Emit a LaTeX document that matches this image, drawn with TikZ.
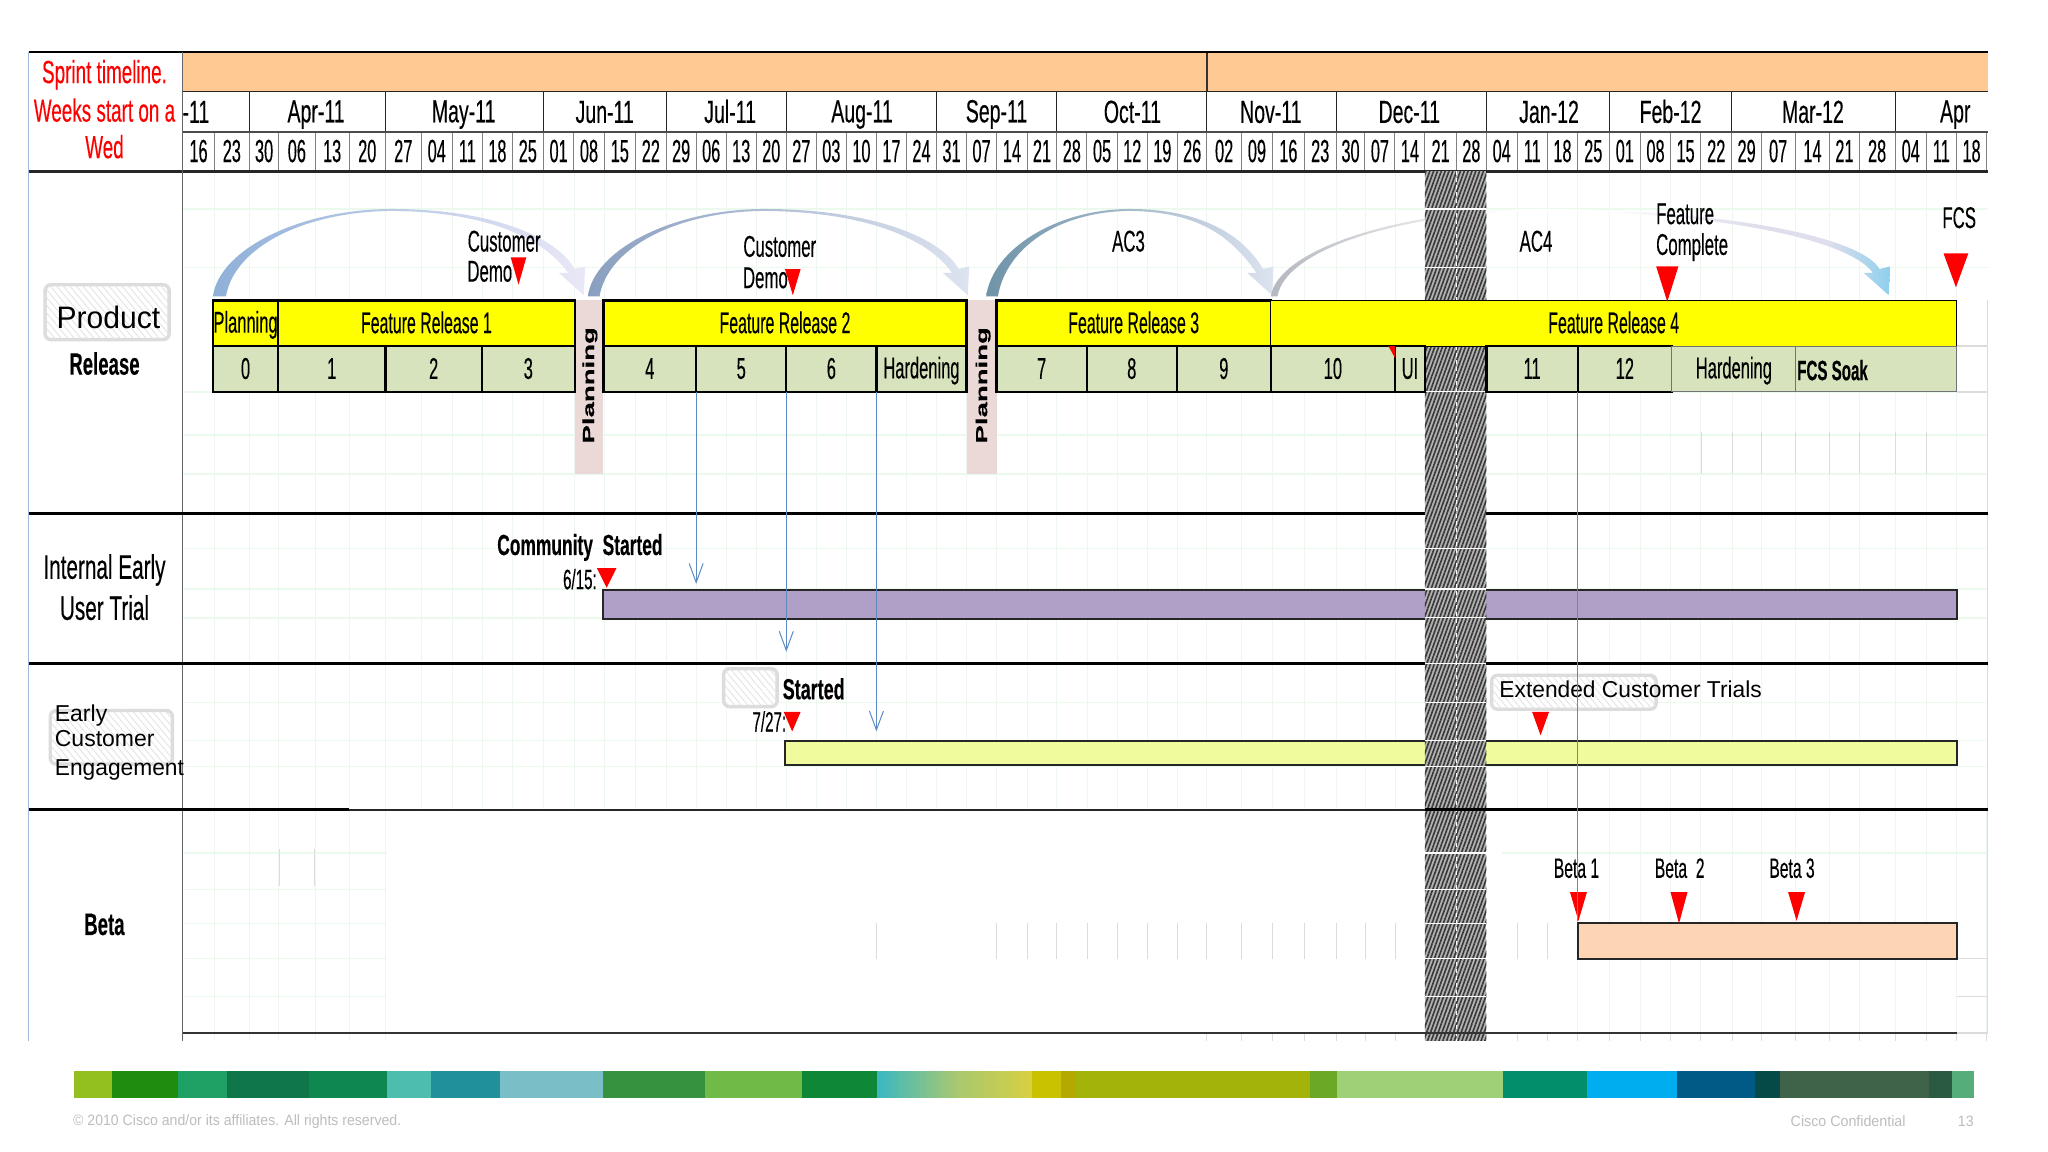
\documentclass[tikz,border=0pt]{standalone}
\usepackage{fontspec}
\usepackage{graphicx}
\setmainfont{Liberation Sans}
\newfontfamily\condf[FakeBold=0.35]{Liberation Sans}
\usetikzlibrary{arrows.meta,patterns.meta}
\definecolor{orangeband}{HTML}{FFC994}
\definecolor{gridv}{HTML}{EDF6F1}
\definecolor{gridh}{HTML}{EBFAEC}
\definecolor{softg}{HTML}{DCDCDC}
\definecolor{softh}{HTML}{E2E2E2}
\definecolor{barblue}{HTML}{5B8BC0}
\definecolor{cellgreen}{HTML}{D7E3BC}
\definecolor{cellyellow}{HTML}{FFFF00}
\definecolor{pinkstrip}{HTML}{EBD9D8}
\definecolor{purplebar}{HTML}{B09FC6}
\definecolor{limebar}{HTML}{F0FB9D}
\definecolor{peachbar}{HTML}{FDD5B5}
\definecolor{mred}{HTML}{FF0000}
\definecolor{arcaL}{HTML}{8FB0D8}
\definecolor{arcaM}{HTML}{E8EDF3}
\definecolor{arcaR}{HTML}{EAE8F6}
\definecolor{arcbL}{HTML}{8A9FBF}
\definecolor{arcbR}{HTML}{DDE3F0}
\definecolor{arccL}{HTML}{6F93A8}
\definecolor{arccR}{HTML}{DDE3F0}
\definecolor{arcdL}{HTML}{B5B8C0}
\definecolor{arcdP}{HTML}{DEDEEC}
\definecolor{arcdR}{HTML}{8FD0EE}
\definecolor{footgray}{HTML}{BDBDBD}
\definecolor{grA}{HTML}{3BB8C0}
\definecolor{grB}{HTML}{A8C870}
\definecolor{grC}{HTML}{D8D040}
\pgfdeclarehorizontalshading{arcfour}{100bp}{color(0bp)=(arcdL); color(25bp)=(arcdL); color(44bp)=(white); color(52bp)=(white); color(64bp)=(arcdP); color(70bp)=(arcdP); color(75bp)=(arcdR); color(100bp)=(arcdR)}
\newcommand\ST[3]{\scalebox{#2}[1]{\condf\fontsize{#1}{#1}\selectfont\raisebox{-.13em}{#3}\strut}}
\newcommand\NT[3]{\scalebox{#2}[1]{\fontsize{#1}{#1}\selectfont\raisebox{-.13em}{#3}\strut}}
\newcommand\cellbox[7]{\node[#6,anchor=north west,minimum width={(#3-#2)*1.306pt},minimum height={(#5-#4)*1.306pt}] (#1) at (#2,#4) {#7};}
\newcommand\arcpath[4]{
 (#1,227) .. controls ({#1+5},190) and ({#2-(#2-#1)*.5},160) .. (#2,160)
 .. controls ({#2+(#3-#2)*.5},160) and ({#3-22},180) .. ({#3-7},206)
 -- ({#3+1},204) -- (#3,226) -- ({#3-19},209) -- ({#3-12},209)
 .. controls ({#3-30},183) and ({#2+(#3-#2)*.5},162) .. (#2,161.5)
 .. controls ({#2-(#2-#1)*.5},162) and ({#1+#4+6},190) .. ({#1+#4},227) -- cycle}
\newcommand\arcarrow[7]{\shade[left color=#5,middle color=#6,right color=#7] \arcpath{#1}{#2}{#3}{#4};}
\newcommand\marker[4]{\fill[mred] (#1,#3) -- (#2,#3) -- ({(#1+#2)/2},#4) -- cycle;}
\newcommand\strippiece[3]{\definecolor{stripc}{HTML}{#3}\fill[stripc] (#1,820) rectangle (#2,841);}
\def\daylist{140/164/16,164/191/23,191/213.4/30,213.4/241.2/06,241.2/267.4/13,267.4/295/20,295/322.5/27,322.5/346.3/04,346.3/369.4/11,369.4/392.2/18,392.2/416/25,416/439.4/01,439.4/462.5/08,462.5/486.6/15,486.6/510/22,510/533/29,533/556/06,556/579/13,579/602/20,602/625/27,625/648/03,648/671/10,671/694/17,694/717/24,717/740/31,740/763/07,763/786.5/14,786.5/809/21,809/832.2/28,832.2/855.4/05,855.4/878.3/12,878.3/901.5/19,901.5/924/26,924/950.5/02,950.5/974.2/09,974.2/998.6/16,998.6/1023/23,1023/1045/30,1045/1068/07,1068/1091/14,1091/1115/21,1115/1138/28,1138/1161.5/04,1161.5/1184.8/11,1184.8/1207.7/18,1207.7/1232/25,1232/1256/01,1256/1279/08,1279/1302/15,1302/1326/22,1326/1348.5/29,1348.5/1374.3/07,1374.3/1401/14,1401/1423.3/21,1423.3/1451/28,1451/1474.8/04,1474.8/1497.9/11,1497.9/1521/18}
\tikzset{
 lbl/.style={inner sep=0pt,outer sep=0pt,align=center},
 lbll/.style={inner sep=0pt,outer sep=0pt,anchor=west},
 yellowcell/.style={draw=black,line width=2.4pt,fill=cellyellow,inner sep=0pt,outer sep=0pt},
 greencell/.style={draw=black,line width=2.4pt,fill=cellgreen,inner sep=0pt,outer sep=0pt},
 softcell/.style={draw=black!55,line width=1pt,fill=cellgreen,inner sep=0pt,outer sep=0pt},
 softbox/.style={draw=softg,line width=3.4pt,rounded corners=6pt,fill=white,postaction={pattern={Lines[angle=-50,distance=5pt,line width=.8pt]},pattern color=softh}},
 rowline/.style={line width=3.2pt,black},
 bluearrow/.style={draw=barblue,line width=1pt,-{Straight Barb[length=19pt,width=14pt,line width=1pt]}},
 blueline/.style={draw=barblue,line width=1pt},
 bar/.style={draw=black!85,line width=2pt},
 redtext/.style={text=mred}
}
\begin{document}
\begin{tikzpicture}[x=1.306pt,y=-1.306pt]
\useasboundingbox (0,0) rectangle (1568,882);
\fill[white] (0,0) rectangle (1568,882);
% grid
\foreach \a/\b/\t in \daylist {
  \draw[gridv,line width=.8pt] (\a,131) -- (\a,620);
}
\foreach \x in {164,191,213.4,241.2,267.4,295,1207.7,1232,1256,1279,1302,1326,1348.5,1374.3,1401,1423.3,1451,1474.8,1497.9,1521} {
  \draw[gridv,line width=.8pt] (\x,620) -- (\x,797);
}
\foreach \y in {160,205,300,333,363,420,451,473,538,567,587} {
  \draw[gridh,line width=1.4pt] (140,\y) -- (1522,\y);
}
\foreach \y in {653,681,707,734,763} {
  \draw[gridh,line width=1.4pt] (140,\y) -- (296,\y);
}
\draw[gridh,line width=1.4pt] (1150,653) -- (1522,653);
\foreach \x in {1303,1326,1348.5,1374.3,1401,1423.3,1451,1474.8} {\draw[softg,line width=.8pt] (\x,331) -- (\x,363);}
\foreach \x in {671,763,786.5,809,832.2,855.4,878.3,901.5,924,950.5,974.2,998.6,1023,1045,1068,1161.5,1184.8} {\draw[softg,line width=.8pt] (\x,707) -- (\x,734);}
\foreach \x in {924,950.5,974.2,998.6,1023,1045,1068,1161.5,1184.8,1207.7,1232,1256,1279,1302,1326,1348.5,1374.3,1401,1423.3,1451,1474.8,1497.9,1521} {\draw[softg,line width=.8pt] (\x,791) -- (\x,797);}
\draw[softg,line width=.8pt] (214,650) -- (214,678) (241,650) -- (241,678);
\draw[softg,line width=1pt] (1522,230) -- (1522,790);
\draw[softg,line width=1.4pt] (1498,734) -- (1522,734) (1498,763) -- (1522,763) (1498,791) -- (1522,791) (1498,265) -- (1522,265) (1498,300) -- (1522,300);
% header
\fill[orangeband] (140,40) rectangle (1522,70);
\foreach \a/\b/\t [count=\i] in \daylist {
  \draw[black!50,line width=1pt] (\a,101) -- (\a,131);
  \node[lbl] (day\i) at ({(\a+\b)/2},116) {\ST{32}{.51}{\t}};
}
\draw[black!50,line width=1pt] (1521,101) -- (1521,131);
\foreach \x in {191,295,416,510,602,717,809,924,1023,1138,1232,1326,1451} {
  \draw[black!85,line width=1.1pt] (\x,70) -- (\x,101);
}
\draw[black!80,line width=1.4pt] (924,40) -- (924,70);
\draw[black!85,line width=1.6pt] (140,70) -- (1522,70);
\draw[black!70,line width=1.6pt] (140,101) -- (1522,101);
\foreach \n/\x/\t in {ma/150/-11,mb/242/Apr-11,mc/355/May-11,md/463/Jun-11,me/559/Jul-11,mf/660/Aug-11,mg/763/Sep-11,mh/867/Oct-11,mi/973/Nov-11,mj/1079/Dec-11,mk/1186/Jan-12,ml/1279/Feb-12,mm/1388/Mar-12,mn/1497/Apr} {
  \node[lbl] (\n) at (\x,86) {\ST{32}{.61}{\t}};
}
\draw[black,line width=2pt] (22,40) -- (1522,40);
\draw[black!85,line width=3.2pt] (22,131) -- (1522,131);
% frame verticals
\draw[barblue!60,line width=1pt] (22,40) -- (22,797);
\draw[black!60,line width=1pt] (140,40) -- (140,797);
% left labels
\node[lbl,redtext] (sa) at (80,56) {\ST{32}{.59}{Sprint timeline.}};
\node[lbl,redtext] (sb) at (80,85) {\ST{32}{.59}{Weeks start on a}};
\node[lbl,redtext] (sc) at (80,113) {\ST{32}{.59}{Wed}};
% arcs
\arcarrow{163}{300}{447}{10}{arcaL}{arcaM}{arcaR}
\arcarrow{450}{585}{741}{9}{arcbL}{white}{arcbR}
\arcarrow{755}{865}{974}{9}{arccL}{white}{arccR}
\shade[shading=arcfour] \arcpath{973}{1180}{1446}{5};
% rows and long bars
\draw[rowline] (22,393) -- (1522,393);
\draw[rowline] (22,508) -- (1522,508);
\fill[pinkstrip] (440,230) rectangle (462,363);
\fill[pinkstrip] (740,230) rectangle (763,363);
\node[lbl,rotate=90] (pa) at (451,295) {\ST{16}{1.72}{\textbf{Planning}}};
\node[lbl,rotate=90] (pb) at (752,295) {\ST{16}{1.72}{\textbf{Planning}}};
\draw[bar,fill=purplebar] (462,452) rectangle (1498,474);
\draw[bar,fill=limebar] (601,567) rectangle (1498,586);
\draw[bar,fill=peachbar] (1208,707) rectangle (1498,734);
% hatch
\fill[black!30] (1091,131) rectangle (1138,797);
\fill[pattern={Lines[angle=70,distance=3.6pt,line width=1.6pt]},pattern color=black!78] (1091,131) rectangle (1138,797);
\foreach \y in {160,205,300,420,451,473,508,538,567,587,653,681,707,734,763} {
  \draw[white,line width=1.2pt] (1091,\y) -- (1138,\y);
}
\draw[white,line width=.9pt,dash pattern=on 4pt off 3pt] (1115,131) -- (1115,797);
% lower lines
\draw[rowline] (22,620) -- (267,620);
\draw[black!85,line width=1.6pt] (267,620) -- (1091,620);
\draw[rowline] (1091,620) -- (1522,620);
\draw[black!80,line width=2pt] (140,791) -- (1498,791);
% release cells
\cellbox{planA}{163}{213}{230}{265}{yellowcell}{\ST{30}{.55}{Planning}}
\cellbox{frA}{213}{440}{230}{265}{yellowcell}{\ST{30}{.53}{Feature Release 1}}
\cellbox{frB}{462}{740}{230}{265}{yellowcell}{\ST{30}{.53}{Feature Release 2}}
\cellbox{frC}{763}{973}{230}{265}{yellowcell}{\ST{30}{.53}{Feature Release 3}}
\cellbox{frD}{973}{1498}{230}{265}{draw=black,line width=1.2pt,fill=cellyellow,inner sep=0pt,outer sep=0pt}{\ST{30}{.53}{Feature Release 4}}
\cellbox{sa0}{163}{213}{265}{300}{greencell}{\ST{30}{.55}{0}}
\cellbox{sa1}{213}{295}{265}{300}{greencell}{\ST{30}{.55}{1}}
\cellbox{sa2}{295}{369}{265}{300}{greencell}{\ST{30}{.55}{2}}
\cellbox{sa3}{369}{440}{265}{300}{greencell}{\ST{30}{.55}{3}}
\cellbox{sa4}{462}{533}{265}{300}{greencell}{\ST{30}{.55}{4}}
\cellbox{sa5}{533}{602}{265}{300}{greencell}{\ST{30}{.55}{5}}
\cellbox{sa6}{602}{671}{265}{300}{greencell}{\ST{30}{.55}{6}}
\cellbox{sah}{671}{740}{265}{300}{greencell}{\ST{30}{.55}{Hardening}}
\cellbox{sa7}{763}{832}{265}{300}{greencell}{\ST{30}{.55}{7}}
\cellbox{sa8}{832}{901}{265}{300}{greencell}{\ST{30}{.55}{8}}
\cellbox{sa9}{901}{973}{265}{300}{greencell}{\ST{30}{.55}{9}}
\cellbox{sa10}{973}{1068}{265}{300}{greencell}{\ST{30}{.55}{10}}
\cellbox{saui}{1068}{1091}{265}{300}{greencell}{\ST{30}{.55}{UI}}
\cellbox{sa11}{1138}{1208}{265}{300}{greencell}{\ST{30}{.55}{11}}
\cellbox{sa12}{1208}{1280}{265}{300}{greencell}{\ST{30}{.55}{12}}
\cellbox{sahb}{1280}{1375}{265}{300}{softcell}{\ST{30}{.55}{Hardening}}
\cellbox{sasoak}{1375}{1498}{265}{300}{softcell}{}
\node[lbll] (soaktext) at (1376,284) {\ST{28}{.54}{\textbf{FCS Soak}}};
\fill[mred] (1063,265) -- (1068,265) -- (1068,274) -- cycle;
% soft boxes
\node[softbox,inner sep=0pt,minimum width={95*1.306pt},minimum height={42*1.306pt}] (product) at (82,239) {};
\node[lbl] (producttext) at (83,244) {\NT{31}{.97}{Product}};
\draw[softbox] (38.5,544) rectangle (132,585);
\draw[softbox] (554,512) rectangle (595,541);
\draw[softbox] (1142,517) rectangle (1268,543);
% labels
\node[lbl] (release) at (80,279) {\ST{31}{.6}{\textbf{Release}}};
\node[lbl] (ieA) at (80,435) {\ST{34}{.61}{Internal Early}};
\node[lbl] (ieB) at (80,466) {\ST{34}{.61}{User Trial}};
\node[lbll] (ecA) at (42,547) {\NT{23}{1}{Early}};
\node[lbll] (ecB) at (42,566) {\NT{23}{1}{Customer}};
\node[lbll] (ecC) at (42,588) {\NT{23}{.99}{Engagement}};
\node[lbl] (beta) at (80,708) {\ST{31}{.6}{\textbf{Beta}}};
\node[lbl] (cdA) at (386,185) {\ST{30}{.56}{Customer}};
\node[lbl] (cdB) at (375,208) {\ST{30}{.56}{Demo}};
\node[lbl] (cdC) at (597,189) {\ST{30}{.56}{Customer}};
\node[lbl] (cdD) at (586,213) {\ST{30}{.56}{Demo}};
\node[lbl] (ac3) at (864,185) {\ST{30}{.56}{AC3}};
\node[lbl] (ac4) at (1176,185) {\ST{30}{.56}{AC4}};
\node[lbll] (fcA) at (1268,164) {\ST{30}{.56}{Feature}};
\node[lbll] (fcB) at (1268,188) {\ST{30}{.56}{Complete}};
\node[lbl] (fcs) at (1500,167) {\ST{30}{.56}{FCS}};
\node[lbl] (comm) at (444,418) {\ST{29}{.6}{\textbf{Community\ \ Started}}};
\node[lbl] (dA) at (444,444) {\ST{28}{.54}{6/15:}};
\node[lbl] (started) at (623,528) {\ST{29}{.62}{\textbf{Started}}};
\node[lbl] (dB) at (589,553) {\ST{28}{.54}{7/27:}};
\node[lbll] (ext) at (1148,528) {\NT{23}{.99}{Extended Customer Trials}};
\node[lbl] (bA) at (1207,665) {\ST{28}{.56}{Beta 1}};
\node[lbl] (bB) at (1286,665) {\ST{28}{.56}{Beta\ \ 2}};
\node[lbl] (bC) at (1372,665) {\ST{28}{.56}{Beta 3}};
% markers
\marker{391}{403}{197}{218}
\marker{601}{613}{206}{226}
\marker{1268}{1285}{204}{231}
\marker{1488}{1507}{194}{220}
\marker{457}{472}{435}{450}
\marker{600}{613}{545}{560}
\marker{1173}{1186}{545}{563}
\marker{1202}{1215}{683}{705}
\marker{1279}{1292}{683}{707}
\marker{1369}{1382}{683}{705}
% blue connectors
\coordinate (endA) at (533,447);
\coordinate (endB) at (602,499);
\coordinate (endC) at (671,560);
\coordinate (endD) at (1208,705);
\draw[bluearrow] (sa4.south east) -- (endA);
\draw[bluearrow] (sa5.south east) -- (endB);
\draw[bluearrow] (sa6.south east) -- (endC);
\draw[blueline] (sa11.south east) -- (endD);
% bottom strip
\strippiece{57}{86}{93C01F}
\strippiece{85.7}{136}{1F8C10}
\strippiece{135.9}{174}{1FA065}
\strippiece{173.9}{237}{0E7648}
\strippiece{236.9}{296.5}{0E8850}
\strippiece{296.3}{330.2}{4DBDB0}
\strippiece{330}{383.2}{20909A}
\strippiece{383}{461.7}{7ABFC8}
\strippiece{461.5}{540.2}{36923E}
\strippiece{540}{614.2}{70BB47}
\strippiece{614}{671.8}{0E8737}
\foreach \i in {0,...,39} {
  \pgfmathsetmacro\gx{671.6+2.96*\i}
  \pgfmathsetmacro\gy{\gx+3.2}
  \pgfmathtruncatemacro\gp{\i<20 ? 100-5*\i : 0}
  \pgfmathtruncatemacro\gq{\i<20 ? 0 : 5*(\i-20)}
  \ifnum\i<20
    \fill[grA!\gp!grB] (\gx,820) rectangle (\gy,841);
  \else
    \fill[grC!\gq!grB] (\gx,820) rectangle (\gy,841);
  \fi
}
\strippiece{789.8}{812.2}{C8C200}
\strippiece{812}{824}{B5A800}
\strippiece{823.7}{1003.2}{A3B30A}
\strippiece{1003}{1024.2}{6AA825}
\strippiece{1024}{1151.2}{9FD078}
\strippiece{1151}{1215.2}{008E6B}
\strippiece{1215}{1284.2}{00AEEF}
\strippiece{1284}{1344.2}{005A85}
\strippiece{1344}{1362.7}{064A48}
\strippiece{1362.5}{1477.2}{3F6349}
\strippiece{1477}{1494.7}{2A5A42}
\strippiece{1494.5}{1511}{55AE7A}
% footer
\node[lbll,text=footgray] (copy) at (56,858.5) {\NT{15}{.94}{© 2010 Cisco and/or its affiliates. All rights reserved.}};
\node[lbll,text=footgray] (conf) at (1371,858.5) {\NT{15}{.95}{Cisco Confidential}};
\node[lbll,text=footgray] (pagen) at (1499,858.5) {\NT{15}{.95}{13}};
\end{tikzpicture}
\end{document}
